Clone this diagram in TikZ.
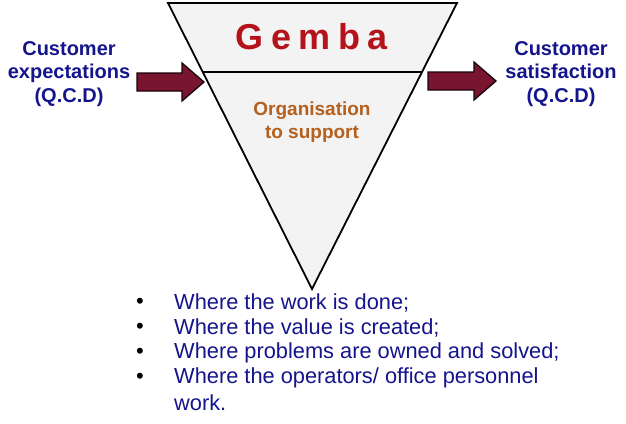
\documentclass[tikz,border=0pt]{standalone}
\usepackage{fontspec}
\setmainfont{Liberation Sans}
\definecolor{navy}{HTML}{14148C}
\definecolor{gembared}{HTML}{B5121B}
\definecolor{brownish}{HTML}{B5601E}
\definecolor{maroon}{HTML}{7A1530}
\definecolor{fillgray}{HTML}{F3F3F3}
\tikzset{
  lbl/.style={text=navy, font=\fontsize{20}{23.5}\selectfont\bfseries, align=center},
  bul/.style={text=navy, font=\fontsize{21.8}{24}\selectfont, anchor=west, inner sep=0},
  dot/.style={font=\fontsize{22}{24}\selectfont, anchor=center, inner sep=0},
  arr/.style={fill=maroon, draw=black!80!maroon, line width=1.3pt, line join=miter}
}
\begin{document}
\begin{tikzpicture}[x=1pt,y=-1pt]
\useasboundingbox (0,0) rectangle (626,423);
% triangle
\coordinate (tl) at (168,3);
\coordinate (tr) at (457,3);
\coordinate (ap) at (312,289);
\coordinate (ml) at (203,72);
\coordinate (mr) at (422,72);
\filldraw[fill=fillgray, draw=black, line width=1.8pt, line join=miter] (tl) -- (tr) -- (ap) -- cycle;
\draw[line width=1.8pt] (ml) -- (mr);
\node[text=gembared, font=\fontsize{36}{40}\selectfont\bfseries] (gemba) at (312,37) {G\hspace{7.5pt}e\hspace{7.5pt}m\hspace{7.5pt}b\hspace{7.5pt}a};
\node[text=brownish, font=\fontsize{19}{23}\selectfont\bfseries, align=center] (org) at (312,122) {Organisation\\to support};
% arrows
\draw[arr] (137,73) -- (182,73) -- (182,63) -- (204,82) -- (182,101) -- (182,91) -- (137,91) -- cycle;
\draw[arr] (428,72) -- (474,72) -- (474,62) -- (496,81) -- (474,100) -- (474,90) -- (428,90) -- cycle;
% side labels
\node[lbl] (left) at (69,74) {Customer\\expectations\\(Q.C.D)};
\node[lbl] (right) at (561,74) {Customer\\satisfaction\\(Q.C.D)};
% bullets
\foreach \y/\t in {303/{Where the work is done;}, 328/{Where the value is created;}, 353/{Where problems are owned and solved;}, 378/{Where the operators/ office personnel}} {
  \node[dot] at (140,\y) {•};
  \node[bul] at (174,\y) {\t};
}
\node[bul] (last) at (174,403) {work.};
\end{tikzpicture}
\end{document}
